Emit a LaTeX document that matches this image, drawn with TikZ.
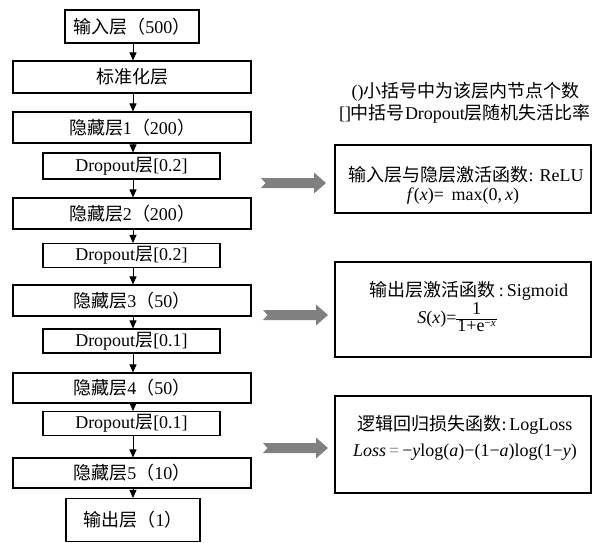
\documentclass[tikz,border=0pt]{standalone}
\usepackage{fontspec}
\setmainfont{Liberation Serif}
\newfontfamily\cjk{Noto Sans CJK SC}
\usetikzlibrary{arrows.meta}
\newcommand\zh[1]{{\cjk #1}}
\definecolor{arrowgray}{RGB}{128,128,128}
\tikzset{
  layer/.style={draw=black, line width=1.1pt, minimum width=238pt, minimum height=31pt, inner sep=0pt, font=\fontsize{18}{20}\selectfont},
  droplayer/.style={layer, minimum width=177pt, minimum height=24pt},
  endlayer/.style={layer, minimum width=134pt},
  infobox/.style={draw=black, line width=1.1pt, minimum width=256pt, inner sep=0pt},
  txt/.style={inner sep=0pt, font=\fontsize{18}{20}\selectfont},
  flow/.style={draw=black, line width=0.9pt, -{Triangle[length=8pt,width=7pt]}},
  bigarrow/.style={fill=arrowgray, draw=none}
}
\newcommand\bigarrowat[3]{% x0, x1, yc
  \fill[bigarrow] (#1,#3-5) -- (#2-12,#3-5) -- (#2-12,#3-10.5) -- (#2,#3) -- (#2-12,#3+10.5) -- (#2-12,#3+5) -- (#1,#3+5) -- (#1+4.5,#3) -- cycle;}
\begin{document}
\begin{tikzpicture}[x=1pt,y=-1pt]
\useasboundingbox (0,0) rectangle (603,542);
% left column
\node[endlayer, minimum height=33pt] (in) at (132,26.5) {\zh{输入层（}500\zh{）}};
\node[layer, minimum height=32pt] (std) at (132,77) {\zh{标准化层}};
\node[layer] (h1) at (132,127.5) {\zh{隐藏层}1\zh{（}200\zh{）}};
\node[droplayer, minimum height=26pt] (d1) at (131.5,166) {Dropout\zh{层}[0.2]};
\node[layer] (h2) at (132,213.5) {\zh{隐藏层}2\zh{（}200\zh{）}};
\node[droplayer] (d2) at (131.5,255.5) {Dropout\zh{层}[0.2]};
\node[layer] (h3) at (132,300.5) {\zh{隐藏层}3\zh{（}50\zh{）}};
\node[droplayer] (d3) at (131.5,341) {Dropout\zh{层}[0.1]};
\node[layer, minimum height=30pt] (h4) at (132,388) {\zh{隐藏层}4\zh{（}50\zh{）}};
\node[droplayer] (d4) at (131.5,423.5) {Dropout\zh{层}[0.1]};
\node[layer, minimum height=30pt] (h5) at (132,473) {\zh{隐藏层}5\zh{（}10\zh{）}};
\node[endlayer, minimum height=43pt] (out) at (133,520) {\zh{输出层（}1\zh{）}};
\foreach \a/\b in {in/std, std/h1, h1/d1, d1/h2, h2/d2, d2/h3, h3/d3, d3/h4, h4/d4, d4/h5, h5/out}
  \draw[flow] (\a.south -| 133,0) -- (\b.north -| 133,0);
% notes
\node[txt] (note1) at (465.5,92) {()\zh{小括号中为该层内节点个数}};
\node[txt] (note2) at (465,114) {[]\zh{中括号}Dropout\zh{层随机失活比率}};
% info boxes
\node[infobox, minimum height=68pt] (r1) at (463,179) {};
\node[txt] (r1a) at (466,175) {\zh{输入层与隐层激活函数}: ReLU};
\node[txt] (r1b) at (463,196) {\textit{f}(\textit{x})=\, max(0,\,\textit{x})};
\node[infobox, minimum height=95pt] (r2) at (463,309.5) {};
\node[txt] (r2a) at (469,290.5) {\zh{输出层激活函数}\,:\,Sigmoid};
\node[txt] (r2b) at (457,319) {\textit{S}(\textit{x})=\renewcommand\arraystretch{0.8}\setlength\tabcolsep{1pt}\begin{tabular}{c}1\\\hline 1+e\raisebox{0.55ex}{\fontsize{11}{12}\selectfont −\textit{x}}\end{tabular}};
\node[infobox, minimum height=97pt] (r3) at (463,444.5) {};
\node[txt] (r3a) at (465,425) {\zh{逻辑回归损失函数}:\,LogLoss};
\node[txt] (r3b) at (465,452) {\textit{Loss}\,{\color{gray}=}\,−\textit{y}log(\textit{a})−(1−\textit{a})log(1−\textit{y})};
% gray arrows
\bigarrowat{261}{326}{183}
\bigarrowat{263}{328}{315}
\bigarrowat{263}{328}{448}
\end{tikzpicture}
\end{document}
